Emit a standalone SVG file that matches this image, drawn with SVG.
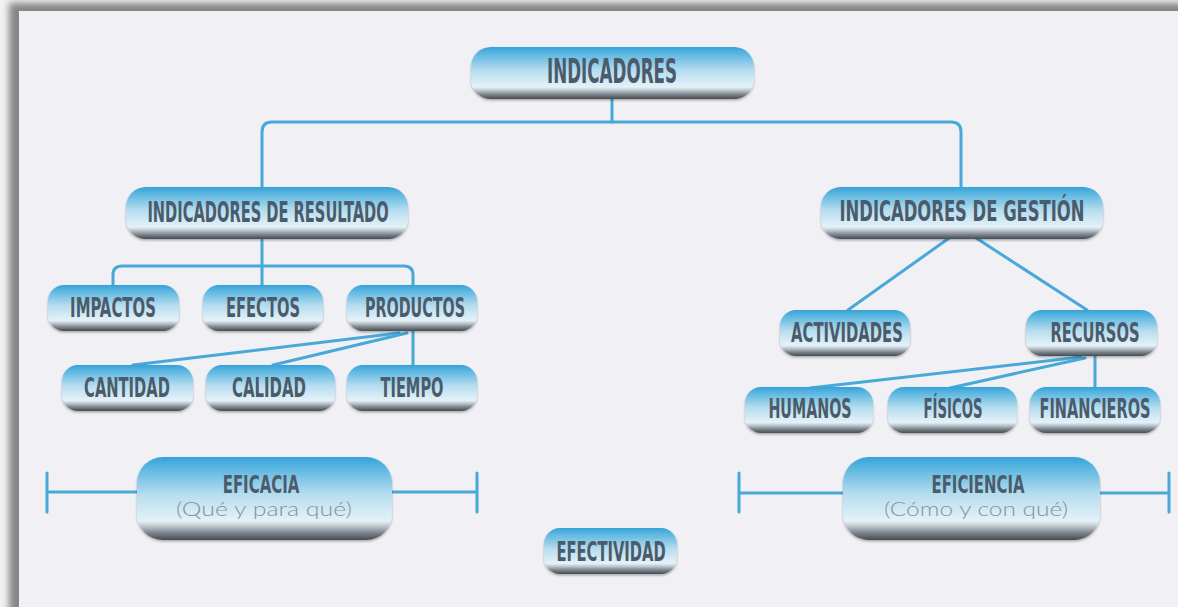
<svg xmlns="http://www.w3.org/2000/svg" width="1178" height="607" viewBox="0 0 1178 607">
<style>
.pill{fill:url(#pillGrad);filter:url(#shadow)}
.t{font-family:"DejaVu Sans Condensed","DejaVu Sans",sans-serif;font-weight:bold;fill:#4b5b6b;text-anchor:middle}
.s{font-family:"Lato","DejaVu Sans",sans-serif;font-weight:300;fill:#8294a1;text-anchor:middle}
.c{fill:none;stroke:#48a9d8;stroke-width:3;stroke-linecap:round;stroke-linejoin:round}
</style>
<defs>
<linearGradient id="pillGrad" x1="0" y1="0" x2="0" y2="1">
<stop offset="0" stop-color="#35a2d8"/>
<stop offset="0.12" stop-color="#58b5e0"/>
<stop offset="0.45" stop-color="#b6ddef"/>
<stop offset="0.77" stop-color="#e4f2f8"/>
<stop offset="0.83" stop-color="#c0cad0"/>
<stop offset="0.92" stop-color="#78808a"/>
<stop offset="1" stop-color="#454b52"/>
</linearGradient>
<filter id="shadow" x="-10%" y="-20%" width="120%" height="150%">
<feDropShadow dx="0" dy="1.5" stdDeviation="1.2" flood-color="#000" flood-opacity="0.3"/>
</filter>
<filter id="blur" x="-5%" y="-5%" width="110%" height="110%">
<feGaussianBlur stdDeviation="3.5"/>
</filter>
</defs>
<rect x="0" y="0" width="1178" height="607" fill="#f2f2f2"/>
<rect x="9" y="3" width="1200" height="660" fill="#858585" filter="url(#blur)"/>
<rect x="19" y="11" width="1170" height="600" fill="#f1f0f5"/>

<g id="connectors">
<path class="c" d="M612,99 V122"/>
<path class="c" d="M262,187 V132 Q262,122 272,122 H951 Q961,122 961,132 V187"/>
<path class="c" d="M262,240 V285"/>
<path class="c" d="M113,285 V275 Q113,266 122,266 H404 Q413,266 413,275 V285"/>
<path class="c" d="M399,333 L133,365"/>
<path class="c" d="M407,333 L273,365"/>
<path class="c" d="M413,331 V365"/>
<path class="c" d="M952,236 L848,310"/>
<path class="c" d="M973,236 L1087,310"/>
<path class="c" d="M1081,357 L810,388"/>
<path class="c" d="M1085,358 L950,388"/>
<path class="c" d="M1095,356 V388"/>
<path class="c" d="M47,473 V512 M47,492 H137 M392,492 H477 M477,473 V512"/>
<path class="c" d="M739,473 V512 M739,493 H843 M1100,493 H1169 M1169,473 V512"/>
</g>

<g id="n-indicadores">
<rect class="pill" x="471" y="47" width="283" height="52" rx="20"/>
<text class="t" transform="translate(612,83) scale(0.65,1)" font-size="33" textLength="200" lengthAdjust="spacingAndGlyphs">INDICADORES</text>
</g>
<g id="n-resultado">
<rect class="pill" x="126" y="187" width="282" height="52" rx="20"/>
<text class="t" transform="translate(268,222) scale(0.65,1)" font-size="28" textLength="371" lengthAdjust="spacingAndGlyphs">INDICADORES DE RESULTADO</text>
</g>
<g id="n-gestion">
<rect class="pill" x="821" y="187" width="282" height="52" rx="20"/>
<text class="t" transform="translate(962,221) scale(0.65,1)" font-size="28" textLength="377" lengthAdjust="spacingAndGlyphs">INDICADORES DE GESTIÓN</text>
</g>
<g id="n-impactos">
<rect class="pill" x="48" y="285" width="131" height="46" rx="16"/>
<text class="t" transform="translate(113,317) scale(0.65,1)" font-size="27" textLength="132" lengthAdjust="spacingAndGlyphs">IMPACTOS</text>
</g>
<g id="n-efectos">
<rect class="pill" x="203" y="285" width="120" height="46" rx="16"/>
<text class="t" transform="translate(263,317) scale(0.65,1)" font-size="27" textLength="114" lengthAdjust="spacingAndGlyphs">EFECTOS</text>
</g>
<g id="n-productos">
<rect class="pill" x="347" y="285" width="130" height="46" rx="16"/>
<text class="t" transform="translate(415,317) scale(0.65,1)" font-size="27" textLength="154" lengthAdjust="spacingAndGlyphs">PRODUCTOS</text>
</g>
<g id="n-cantidad">
<rect class="pill" x="62" y="365" width="131" height="46" rx="16"/>
<text class="t" transform="translate(127,397) scale(0.65,1)" font-size="27" textLength="132" lengthAdjust="spacingAndGlyphs">CANTIDAD</text>
</g>
<g id="n-calidad">
<rect class="pill" x="206" y="365" width="129" height="46" rx="16"/>
<text class="t" transform="translate(269,397) scale(0.65,1)" font-size="27" textLength="114" lengthAdjust="spacingAndGlyphs">CALIDAD</text>
</g>
<g id="n-tiempo">
<rect class="pill" x="347" y="365" width="130" height="46" rx="16"/>
<text class="t" transform="translate(412,397) scale(0.65,1)" font-size="27" textLength="97" lengthAdjust="spacingAndGlyphs">TIEMPO</text>
</g>
<g id="n-actividades">
<rect class="pill" x="780" y="310" width="130" height="46" rx="16"/>
<text class="t" transform="translate(847,342) scale(0.65,1)" font-size="27" textLength="172" lengthAdjust="spacingAndGlyphs">ACTIVIDADES</text>
</g>
<g id="n-recursos">
<rect class="pill" x="1026" y="310" width="131" height="46" rx="16"/>
<text class="t" transform="translate(1095,342) scale(0.65,1)" font-size="27" textLength="137" lengthAdjust="spacingAndGlyphs">RECURSOS</text>
</g>
<g id="n-humanos">
<rect class="pill" x="745" y="387" width="128" height="46" rx="16"/>
<text class="t" transform="translate(810,418) scale(0.65,1)" font-size="27" textLength="128" lengthAdjust="spacingAndGlyphs">HUMANOS</text>
</g>
<g id="n-fisicos">
<rect class="pill" x="888" y="387" width="129" height="46" rx="16"/>
<text class="t" transform="translate(953,418) scale(0.65,1)" font-size="27" textLength="91" lengthAdjust="spacingAndGlyphs">FÍSICOS</text>
</g>
<g id="n-financieros">
<rect class="pill" x="1030" y="387" width="130" height="46" rx="16"/>
<text class="t" transform="translate(1095,418) scale(0.65,1)" font-size="27" textLength="171" lengthAdjust="spacingAndGlyphs">FINANCIEROS</text>
</g>
<g id="n-eficacia">
<rect class="pill" x="137" y="457" width="255" height="83" rx="26"/>
<text class="t" transform="translate(261,493) scale(0.65,1)" font-size="25" textLength="118" lengthAdjust="spacingAndGlyphs">EFICACIA</text>
<text class="s" x="264" y="516" font-size="19" textLength="176" lengthAdjust="spacingAndGlyphs">(Qué y para qué)</text>
</g>
<g id="n-eficiencia">
<rect class="pill" x="843" y="457" width="257" height="83" rx="26"/>
<text class="t" transform="translate(978,493) scale(0.65,1)" font-size="25" textLength="143" lengthAdjust="spacingAndGlyphs">EFICIENCIA</text>
<text class="s" x="976" y="516" font-size="19" textLength="184" lengthAdjust="spacingAndGlyphs">(Cómo y con qué)</text>
</g>
<g id="n-efectividad">
<rect class="pill" x="544" y="528" width="133" height="46" rx="16"/>
<text class="t" transform="translate(611,561) scale(0.65,1)" font-size="27" textLength="168" lengthAdjust="spacingAndGlyphs">EFECTIVIDAD</text>
</g>
</svg>
